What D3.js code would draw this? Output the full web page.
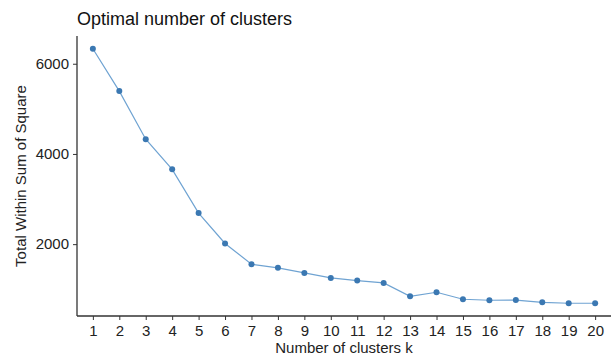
<!DOCTYPE html>
<html><head><meta charset="utf-8">
<script src="https://cdn.jsdelivr.net/npm/d3@7/dist/d3.min.js"></script>
<style>body{margin:0;background:#fff}text{font-family:"Liberation Sans",Arial,sans-serif}</style>
</head><body><svg id="c" width="611" height="363"></svg>
<script>
const categories = ["1","2","3","4","5","6","7","8","9","10","11","12","13","14","15","16","17","18","19","20"];
const wss = [6333,5393,4326,3659,2689,2015,1556,1474,1363,1252,1193,1141,844,933,778,756,760,711,689,689];
const yTicks = [2000,4000,6000];
const title = "Optimal number of clusters";
const xTitle = "Number of clusters k";
const yTitle = "Total Within Sum of Square";

const svg = d3.select("#c");
const L = 77, R = 611, T = 36, B = 316;
const x = d3.scalePoint().domain(categories).range([L, R]).padding(0.6);
const ext = d3.extent(wss), pad = (ext[1]-ext[0])*0.05;
const y = d3.scaleLinear().domain([ext[0]-pad, ext[1]+pad]).range([B, T]);
const axCol = "#333";

const xa = svg.append("g").attr("transform",`translate(0,${B})`).call(d3.axisBottom(x).tickSize(4).tickPadding(5));
const ya = svg.append("g").attr("transform",`translate(${L},0)`).call(d3.axisLeft(y).tickValues(yTicks).tickSize(4).tickPadding(4).tickFormat(d3.format("d")));
[xa,ya].forEach(a=>{
  a.select(".domain").attr("stroke",axCol).attr("stroke-width",1.3).attr("d", a===xa?`M${L},0H${R}`:`M0,${T}V${B}`);
  a.selectAll(".tick line").attr("stroke",axCol).attr("stroke-width",1);
  a.selectAll(".tick text").attr("fill","#222").style("font-size","15px");
});

const line = d3.line().x((d,i)=>x(categories[i])).y(d=>y(d));
svg.append("path").datum(wss).attr("d",line).attr("fill","none").attr("stroke","#6FA3D2").attr("stroke-width",1.2);
svg.selectAll("circle.p").data(wss).join("circle").attr("class","p")
  .attr("cx",(d,i)=>x(categories[i])).attr("cy",d=>y(d)).attr("r",3).attr("fill","#3B78B2");

svg.append("text").attr("x",L).attr("y",25).style("font-size","18px").attr("fill","#111").text(title);
svg.append("text").attr("x",(L+R)/2).attr("y",353).attr("text-anchor","middle").style("font-size","15px").attr("fill","#222").text(xTitle);
svg.append("text").attr("transform",`translate(26,${(T+B)/2}) rotate(-90)`).attr("text-anchor","middle").style("font-size","15px").attr("fill","#222").text(yTitle);
</script></body></html>
